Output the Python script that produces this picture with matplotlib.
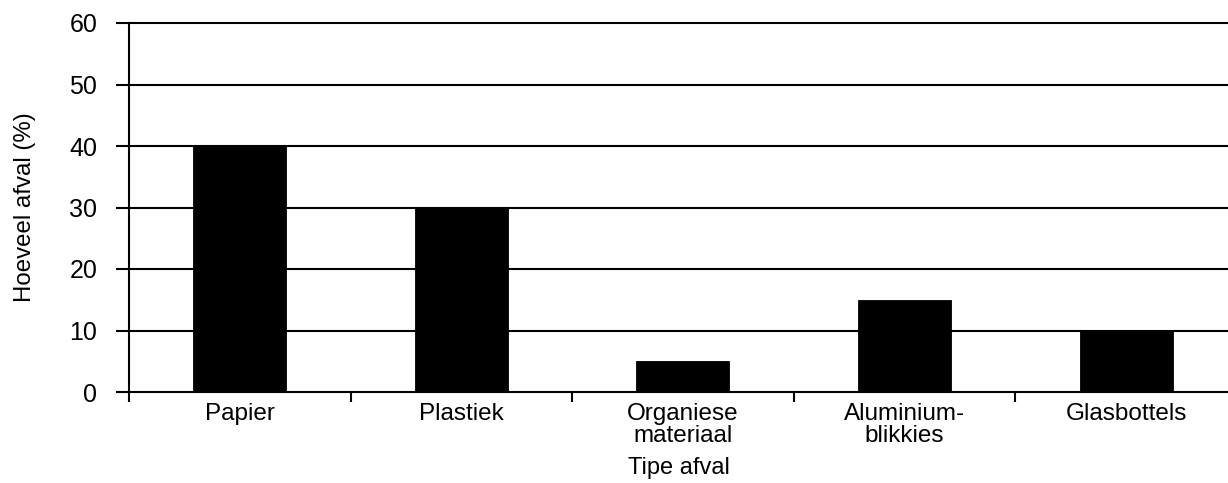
import matplotlib.pyplot as plt
import numpy as np

categories = ["Papier", "Plastiek", "Organiese\nmateriaal", "Aluminium-\nblikkies", "Glasbottels"]
values = [40, 30, 5, 15, 10]
yticks = [0, 10, 20, 30, 40, 50, 60]


def main():
    plt.rcParams['font.family'] = ['Liberation Sans', 'DejaVu Sans']
    fig = plt.figure(figsize=(12.28, 4.83), dpi=100)
    ax = fig.add_axes([129/1228, 1 - 392/483, 1 - 129/1228, (392 - 23)/483])

    x = np.arange(len(categories))
    ax.bar(x, values, width=0.42, color="black", edgecolor="black", linewidth=0.6, zorder=3)

    ax.set_ylim(0, 60)
    ax.set_xlim(-0.5, 4.46)
    ax.set_yticks(yticks)
    for v in yticks:
        ax.axhline(v, color="black", linewidth=1.5, zorder=1, clip_on=False)

    ax.set_xticks(x)
    ax.set_xticklabels(categories, fontsize=17.5, linespacing=1.0)
    ax.set_xticks(np.arange(-0.5, 4.0, 1.0), minor=True)
    ax.tick_params(axis="x", which="major", length=0, pad=8)
    ax.tick_params(axis="x", which="minor", length=7.2, width=1.5, color="black", direction="out")
    ax.tick_params(axis="y", length=9.4, width=1.5, pad=13.5, labelsize=18)

    for side in ["top", "right", "bottom"]:
        ax.spines[side].set_visible(False)
    ax.spines["left"].set_linewidth(1.5)
    ax.spines["left"].set_bounds(0, 60)

    ax.set_ylabel("Hoeveel afval (%)", fontsize=17.3, labelpad=24)
    ax.set_xlabel("Tipe afval", fontsize=17)
    ax.xaxis.set_label_coords(0.5, -0.177)

    fig.savefig("out.png", dpi=100)


if __name__ == "__main__":
    main()
